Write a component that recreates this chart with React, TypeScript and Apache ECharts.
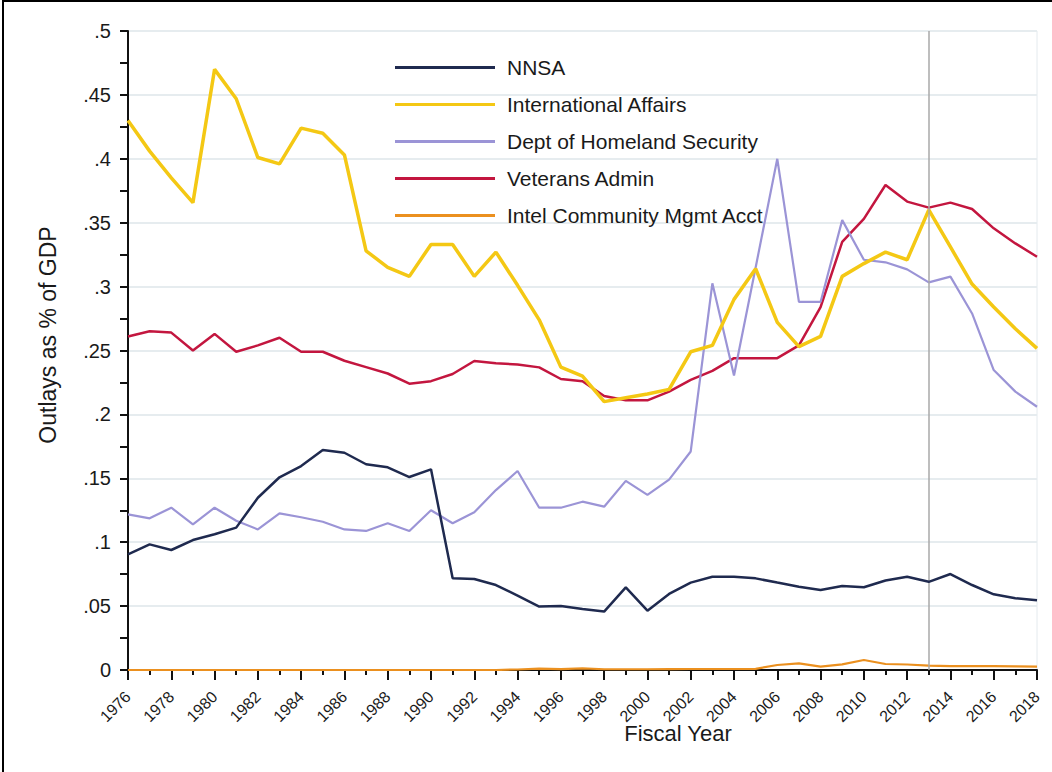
import React, { useEffect, useRef } from "react";
import * as echarts from "echarts";

const years: number[] = [];
for (let y = 1976; y <= 2018; y++) years.push(y);

const seriesNames = [
  "NNSA",
  "International Affairs",
  "Dept of Homeland Security",
  "Veterans Admin",
  "Intel Community Mgmt Acct",
];

const nnsa = [
  0.0905, 0.0983, 0.0939, 0.1017, 0.1062, 0.1114, 0.1348, 0.1508, 0.1596, 0.1721,
  0.170, 0.161, 0.1586, 0.151, 0.157, 0.0717, 0.0712, 0.0665, 0.0582, 0.0496,
  0.0500, 0.0477, 0.0457, 0.0647, 0.0464, 0.0595, 0.0684, 0.073, 0.073, 0.0717,
  0.0684, 0.0652, 0.0626, 0.0657, 0.0647, 0.070, 0.073, 0.069, 0.0751, 0.0665,
  0.0592, 0.0561, 0.0545,
];

const intlAffairs = [
  0.430, 0.406, 0.385, 0.3657, 0.470, 0.447, 0.401, 0.396, 0.424, 0.420,
  0.403, 0.328, 0.315, 0.308, 0.333, 0.333, 0.308, 0.327, 0.301, 0.274,
  0.237, 0.230, 0.210, 0.213, 0.216, 0.2196, 0.249, 0.254, 0.290, 0.314,
  0.272, 0.253, 0.261, 0.308, 0.318, 0.327, 0.321, 0.360, 0.331, 0.302,
  0.284, 0.267, 0.2517,
];

const homeland = [
  0.1218, 0.1187, 0.127, 0.114, 0.127, 0.1168, 0.110, 0.1226, 0.1195, 0.116,
  0.110, 0.1088, 0.1148, 0.1088, 0.125, 0.1148, 0.1234, 0.1408, 0.1557, 0.127,
  0.127, 0.1317, 0.1278, 0.148, 0.137, 0.149, 0.171, 0.3026, 0.2305, 0.315,
  0.400, 0.288, 0.288, 0.352, 0.321, 0.319, 0.3135, 0.3033, 0.3078, 0.279,
  0.2347, 0.2178, 0.206,
];

const veterans = [
  0.261, 0.265, 0.264, 0.250, 0.263, 0.249, 0.254, 0.260, 0.249, 0.249,
  0.242, 0.237, 0.232, 0.224, 0.226, 0.2316, 0.2418, 0.240, 0.239, 0.2368,
  0.2277, 0.226, 0.2144, 0.211, 0.211, 0.2178, 0.227, 0.234, 0.244, 0.244,
  0.244, 0.254, 0.284, 0.335, 0.353, 0.3795, 0.3665, 0.3618, 0.3657, 0.3607,
  0.3456, 0.3338, 0.3234,
];

const intel = [
  0, 0, 0, 0, 0, 0, 0, 0, 0, 0,
  0, 0, 0, 0, 0, 0, 0, 0, 0.0004, 0.001,
  0.0007, 0.0012, 0.0006, 0.0006, 0.0006, 0.0007, 0.0008, 0.0008, 0.0008, 0.0009,
  0.0039, 0.0052, 0.0026, 0.0044, 0.0078, 0.0047, 0.0043, 0.0034, 0.0031, 0.0031,
  0.003, 0.0028, 0.0027,
];

const seriesValues = [nnsa, intlAffairs, homeland, veterans, intel];
const seriesColors = ["#1f2a4f", "#f4c814", "#9b94d6", "#c3163f", "#eb901f"];
const seriesWidths = [2.5, 3.5, 2.2, 2.5, 2.2];

const markerYear = 2013;

const FONT = "'Liberation Sans', Arial, Helvetica, sans-serif";

export default function App() {
  const ref = useRef<HTMLDivElement>(null);

  useEffect(() => {
    if (!ref.current) return;
    const chart = echarts.init(ref.current, null, { renderer: "svg" });

    const series: any[] = seriesNames.map((name, i) => ({
      name,
      type: "line",
      symbol: "none",
      data: years.map((y, k) => [y, seriesValues[i][k]]),
      lineStyle: { color: seriesColors[i], width: seriesWidths[i] },
      itemStyle: { color: seriesColors[i] },
      z: 5 - i,
    }));

    series[0].markLine = {
      silent: true,
      symbol: "none",
      label: { show: false },
      lineStyle: { color: "#a8a8a8", width: 1.5, type: "solid" },
      data: [{ xAxis: markerYear }],
    };

    chart.setOption({
      animation: false,
      backgroundColor: "#ffffff",
      textStyle: { fontFamily: FONT },
      grid: {
        left: 128,
        right: 15,
        top: 31,
        bottom: 102,
        show: true,
        borderColor: "#e4eaee",
        borderWidth: 1,
      },
      legend: {
        orient: "vertical",
        left: 390,
        top: 52,
        icon: "rect",
        itemWidth: 100,
        itemHeight: 3,
        itemGap: 16,
        textStyle: {
          fontFamily: FONT,
          fontSize: 21,
          color: "#1a1a1a",
          padding: [0, 0, 0, 7],
        },
        data: seriesNames,
      },
      xAxis: {
        type: "value",
        min: 1976,
        max: 2018,
        interval: 2,
        axisLine: { show: true, lineStyle: { color: "#111", width: 2 } },
        axisTick: { show: true, length: 10, lineStyle: { color: "#111", width: 2 } },
        minorTick: { show: true, splitNumber: 2, length: 5, lineStyle: { color: "#111", width: 2 } },
        splitLine: { show: false },
        axisLabel: {
          rotate: 45,
          fontSize: 16,
          color: "#1a1a1a",
          fontFamily: FONT,
          margin: 24,
          formatter: (v: number) => String(v),
        },
      },
      yAxis: {
        type: "value",
        min: 0,
        max: 0.5,
        interval: 0.05,
        axisLine: { show: true, lineStyle: { color: "#111", width: 2 } },
        axisTick: { show: true, length: 8, lineStyle: { color: "#111", width: 2 } },
        minorTick: { show: true, splitNumber: 2, length: 8, lineStyle: { color: "#111", width: 2 } },
        splitLine: { show: true, lineStyle: { color: "#e6ecef", width: 2 } },
        axisLabel: {
          fontSize: 20,
          color: "#1a1a1a",
          fontFamily: FONT,
          margin: 17,
          formatter: (v: number) =>
            v === 0 ? "0" : String(+v.toFixed(3)).replace(/^0/, ""),
        },
      },
      graphic: [
        {
          type: "rect",
          shape: { x: 3, y: 1, width: 1100, height: 800 },
          style: { fill: "none", stroke: "#000", lineWidth: 2 },
          silent: true,
        },
        {
          type: "text",
          x: 678,
          y: 733,
          style: {
            text: "Fiscal Year",
            fontSize: 22,
            fontFamily: FONT,
            fill: "#1a1a1a",
            align: "center",
            verticalAlign: "middle",
          },
        },
        {
          type: "text",
          x: 48,
          y: 335,
          rotation: Math.PI / 2,
          style: {
            text: "Outlays as % of GDP",
            fontSize: 23,
            fontFamily: FONT,
            fill: "#1a1a1a",
            align: "center",
            verticalAlign: "middle",
          },
        },
      ],
      series,
    });

    return () => chart.dispose();
  }, []);

  return (
    <div
      ref={ref}
      style={{ position: "fixed", left: 0, top: 0, width: 1052, height: 772 }}
    />
  );
}
